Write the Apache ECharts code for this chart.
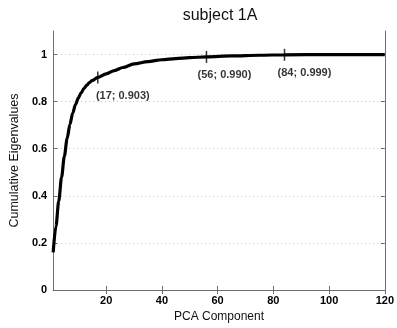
<!DOCTYPE html>
<html>
<head>
<meta charset="utf-8">
<script src="https://cdn.jsdelivr.net/npm/echarts@6/dist/echarts.min.js"></script>
<style>
  html, body { margin: 0; background: #fff; }
  #chart { width: 397px; height: 328px; }
</style>
</head>
<body>
<div id="chart"></div>
<script>
// values
const components = [1, 2, 3, 4, 5, 6, 7, 8, 9, 10, 11, 12, 13, 14, 15, 17, 20, 23, 26, 30, 35, 40, 45, 50, 56, 65, 75, 84, 100, 120];
const cumulative = [0.16, 0.272, 0.378, 0.478, 0.568, 0.643, 0.703, 0.751, 0.787, 0.815, 0.837, 0.855, 0.869, 0.881, 0.89, 0.903, 0.918, 0.932, 0.945, 0.960, 0.970, 0.978, 0.983, 0.987, 0.990, 0.994, 0.997, 0.999, 1.0, 1.0];
const markedComponents = [17, 56, 84];
const markedValues = [0.903, 0.990, 0.999];
const xTicks = [20, 40, 60, 80, 100, 120];
const yTicks = [0, 0.2, 0.4, 0.6, 0.8, 1];

const FONT = "'Liberation Sans', Arial, sans-serif";
const FRAME = '#6e6e6e';
const labelShift = [25, 18, 20];

const chart = echarts.init(document.getElementById('chart'), null, { renderer: 'canvas' });

const hiddenAxis = {
    axisLine: { show: true, lineStyle: { color: FRAME, width: 1 } },
    axisLabel: { show: false },
    splitLine: { show: false },
}

chart.setOption({
    animation: false,
    title: {
        text: 'subject 1A',
        left: 215,
        textAlign: 'center',
        top: 3,
        textStyle: { fontFamily: FONT, fontSize: 16, fontWeight: 'normal', color: '#111' },
    },
    grid: { left: 42, right: 9, top: 31, bottom: 28, containLabel: false },
    xAxis: [
        {
            type: 'value',
            min: 1,
            max: 120,
            name: 'PCA Component',
            nameLocation: 'middle',
            nameGap: 21,
            nameTextStyle: { fontFamily: FONT, fontSize: 12, color: '#111' },
            axisLine: { show: true, lineStyle: { color: FRAME, width: 1 } },
            axisTick: { show: true, inside: true, length: 4, customValues: xTicks, lineStyle: { color: FRAME } },
            axisLabel: { customValues: xTicks, fontFamily: FONT, fontSize: 11, fontWeight: 'bold', color: '#000', margin: 5 },
            splitLine: { show: false },
        },
        Object.assign({
            type: 'value', min: 1, max: 120, position: 'top',
            axisTick: { show: true, inside: true, length: 4, customValues: xTicks, lineStyle: { color: FRAME } },
        }, hiddenAxis),
    ],
    yAxis: [
        {
            type: 'value',
            min: 0,
            max: 1.1,
            name: 'Cumulative Eigenvalues',
            nameLocation: 'middle',
            nameGap: 28,
            nameTextStyle: { fontFamily: FONT, fontSize: 12.5, color: '#111' },
            axisLine: { show: true, lineStyle: { color: FRAME, width: 1 } },
            axisTick: { show: true, inside: true, length: 4, customValues: yTicks, lineStyle: { color: FRAME } },
            axisLabel: { customValues: yTicks, fontFamily: FONT, fontSize: 11, fontWeight: 'bold', color: '#000', margin: 6 },
            splitLine: { show: true, lineStyle: { color: '#bdbdbd', type: [1, 3], width: 1 } },
        },
        Object.assign({
            type: 'value', min: 0, max: 1.1, position: 'right',
            axisTick: { show: true, inside: true, length: 4, customValues: yTicks, lineStyle: { color: FRAME } },
        }, hiddenAxis),
    ],
    series: [
        {
            type: 'line',
            data: components.map((c, i) => [c, cumulative[i]]),
            smooth: 0.3,
            smoothMonotone: 'x',
            showSymbol: false,
            lineStyle: { color: '#000', width: 3.2 },
            z: 3,
        },
        {
            type: 'scatter',
            data: markedComponents.map((c, i) => ({
                value: [c, markedValues[i]],
                label: { offset: [labelShift[i], 0] },
            })),
            symbol: 'rect',
            symbolSize: [1.5, 12],
            itemStyle: { color: '#000' },
            label: {
                show: true,
                position: 'bottom',
                distance: 7,
                formatter: p => '(' + p.value[0] + '; ' + p.value[1].toFixed(3) + ')',
                fontFamily: FONT,
                fontSize: 11,
                fontWeight: 'bold',
                color: '#000',
            },
            z: 4,
        },
    ],
});
</script>
</body>
</html>
